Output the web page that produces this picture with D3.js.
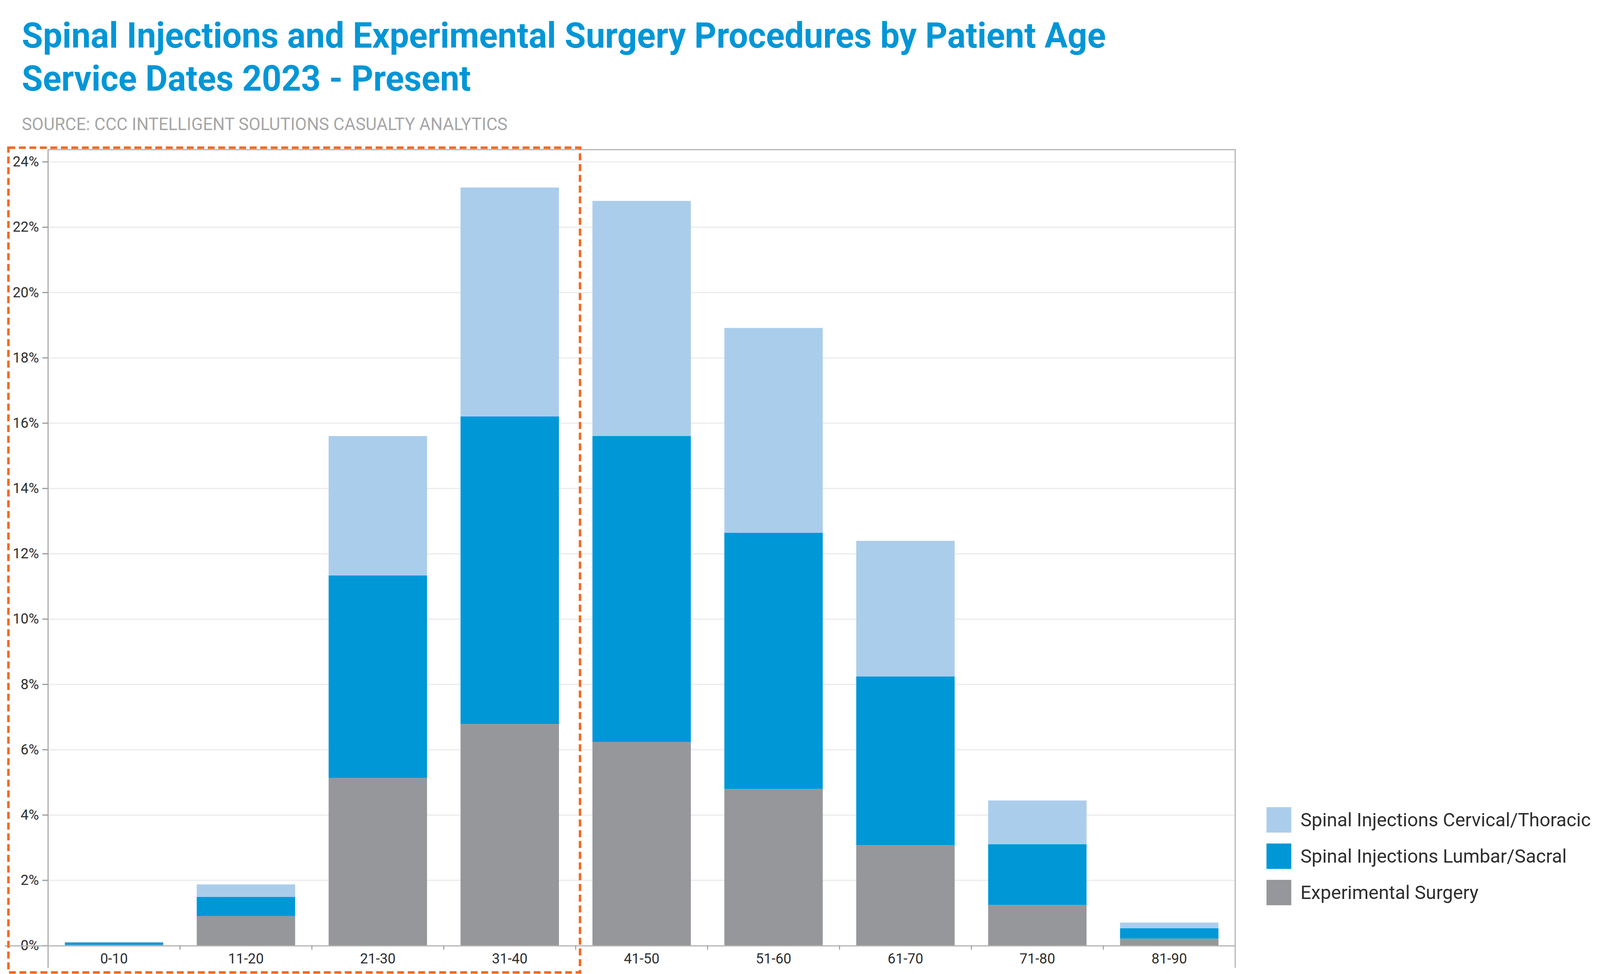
<!DOCTYPE html>
<html>
<head>
<meta charset="utf-8">
<script src="https://cdn.jsdelivr.net/npm/d3@7/dist/d3.min.js"></script>
<style>
  html, body { margin: 0; padding: 0; background: #ffffff; overflow: hidden; width: 100%; height: 100%; }
  svg { display: block; position: absolute; left: 0; top: 0; width: 100%; height: 100%; }
  text { font-family: Roboto, "Noto Sans", "DejaVu Sans", sans-serif; }
</style>
</head>
<body>
<svg id="chart" viewBox="0 0 4193 2493" preserveAspectRatio="none"></svg>
<script>
// ---- Data (percent of procedures) ----
const categories = ["0-10", "11-20", "21-30", "31-40", "41-50", "51-60", "61-70", "71-80", "81-90"];
const seriesNames = ["Experimental Surgery", "Spinal Injections Lumbar/Sacral", "Spinal Injections Cervical/Thoracic"];
const experimentalSurgery = [0.02, 0.90, 5.13, 6.78, 6.23, 4.79, 3.07, 1.24, 0.21];
const lumbarSacral        = [0.07, 0.59, 6.20, 9.42, 9.37, 7.85, 5.17, 1.86, 0.32];
const cervicalThoracic    = [0.02, 0.38, 4.27, 7.01, 7.20, 6.27, 4.15, 1.34, 0.17];
const yTickValues = [0, 2, 4, 6, 8, 10, 12, 14, 16, 18, 20, 22, 24];
const legendOrder = ["Spinal Injections Cervical/Thoracic", "Spinal Injections Lumbar/Sacral", "Experimental Surgery"];

const titleLines = ["Spinal Injections and Experimental Surgery Procedures by Patient Age", "Service Dates 2023 - Present"];
const sourceText = "SOURCE: CCC INTELLIGENT SOLUTIONS CASUALTY ANALYTICS";

// ---- Styles ----
const colors = {
  "Experimental Surgery": "#96979b",
  "Spinal Injections Lumbar/Sacral": "#0097d7",
  "Spinal Injections Cervical/Thoracic": "#abcdec"
};
const titleColor = "#0096d6";

const svg = d3.select("#chart");

// ---- Layout ----
const plot = { left: 126, right: 3237, top: 383, bottom: 2420 };

const table = categories.map((c, i) => ({
  category: c,
  "Experimental Surgery": experimentalSurgery[i],
  "Spinal Injections Lumbar/Sacral": lumbarSacral[i],
  "Spinal Injections Cervical/Thoracic": cervicalThoracic[i]
}));
const stacked = d3.stack().keys(seriesNames)(table);

const x = d3.scaleBand()
  .domain(categories)
  .range([plot.left, plot.right])
  .paddingInner(0.254)
  .paddingOuter(0.127);

const y = d3.scaleLinear()
  .domain([0, 24.37])
  .range([plot.bottom, plot.top]);

// ---- Titles ----
function fitText(sel, width) {
  sel.each(function () {
    this.setAttribute("textLength", width);
    this.setAttribute("lengthAdjust", "spacingAndGlyphs");
  });
}
svg.append("text")
  .attr("x", 57).attr("y", 122)
  .attr("fill", titleColor).attr("font-size", 91).attr("font-weight", 700)
  .text(titleLines[0]).call(fitText, 2841);
svg.append("text")
  .attr("x", 57).attr("y", 232)
  .attr("fill", titleColor).attr("font-size", 91).attr("font-weight", 700)
  .text(titleLines[1]).call(fitText, 1177);
svg.append("text")
  .attr("x", 57).attr("y", 333)
  .attr("fill", "#a6a6a6").attr("font-size", 44)
  .text(sourceText).call(fitText, 1273);

// ---- Gridlines ----
svg.append("g")
  .attr("transform", `translate(${plot.left},0)`)
  .call(d3.axisLeft(y).tickValues(yTickValues.filter(v => v > 0)).tickSize(-(plot.right - plot.left)).tickFormat(""))
  .call(g => g.select(".domain").remove())
  .call(g => g.selectAll("line").attr("stroke", "#ebebeb").attr("stroke-width", 3));

// ---- Frame (top & right) ----
svg.append("line")
  .attr("x1", plot.left).attr("x2", plot.right + 1.5)
  .attr("y1", plot.top).attr("y2", plot.top)
  .attr("stroke", "#b3b3b3").attr("stroke-width", 3);
svg.append("line")
  .attr("x1", plot.right).attr("x2", plot.right)
  .attr("y1", plot.top).attr("y2", 2477)
  .attr("stroke", "#b3b3b3").attr("stroke-width", 3);

// ---- Bars ----
svg.append("g")
  .selectAll("g")
  .data(stacked)
  .join("g")
  .attr("fill", d => colors[d.key])
  .selectAll("rect")
  .data(d => d)
  .join("rect")
  .attr("x", d => x(d.data.category))
  .attr("width", x.bandwidth())
  .attr("y", d => y(d[1]))
  .attr("height", d => y(d[0]) - y(d[1]));

// ---- Y axis ----
svg.append("g")
  .attr("transform", `translate(${plot.left},0)`)
  .call(d3.axisLeft(y).tickValues(yTickValues).tickSize(15).tickPadding(9).tickFormat(d => d + "%"))
  .call(g => g.select(".domain").remove())
  .call(g => g.selectAll("line").attr("stroke", "#9a9a9a").attr("stroke-width", 3))
  .call(g => g.selectAll("text").attr("fill", "#2e2e2e").attr("font-size", 37)
    .attr("font-family", "Roboto, 'Noto Sans', sans-serif"));
svg.append("line")
  .attr("x1", plot.left).attr("x2", plot.left)
  .attr("y1", plot.top).attr("y2", 2477)
  .attr("stroke", "#a8a8a8").attr("stroke-width", 3);

// ---- X axis ----
svg.append("g")
  .attr("transform", `translate(0,${plot.bottom})`)
  .call(d3.axisBottom(x).tickSize(0).tickPadding(20))
  .call(g => g.select(".domain").remove())
  .call(g => g.selectAll("text").attr("fill", "#2e2e2e").attr("font-size", 37)
    .attr("font-family", "Roboto, 'Noto Sans', sans-serif"));
svg.append("line")
  .attr("x1", 12).attr("x2", plot.right)
  .attr("y1", plot.bottom + 1).attr("y2", plot.bottom + 1)
  .attr("stroke", "#b3b3b3").attr("stroke-width", 3);
const gap = (x.step() - x.bandwidth()) / 2;
svg.append("g")
  .selectAll("line")
  .data(categories.slice(1))
  .join("line")
  .attr("x1", d => x(d) - gap).attr("x2", d => x(d) - gap)
  .attr("y1", plot.bottom).attr("y2", plot.bottom + 11)
  .attr("stroke", "#9a9a9a").attr("stroke-width", 2.5);

// ---- Legend ----
const legend = svg.append("g").attr("transform", "translate(3319,2066)");
const items = legend.selectAll("g")
  .data(legendOrder)
  .join("g")
  .attr("transform", (d, i) => `translate(0,${i * 93})`);
items.append("rect")
  .attr("width", 65).attr("height", 65)
  .attr("fill", d => colors[d]);
const ltexts = items.append("text")
  .attr("x", 89).attr("y", 49)
  .attr("fill", "#2e2e2e").attr("font-size", 49)
  .text(d => d);
// compress legend text consistently to match reference width
const naturalLens = ltexts.nodes().map(n => n.getComputedTextLength());
const ratio = 761 / naturalLens[0];
ltexts.each(function (d, i) {
  this.setAttribute("textLength", naturalLens[i] * ratio);
  this.setAttribute("lengthAdjust", "spacingAndGlyphs");
});

// ---- Orange dashed highlight box ----
svg.append("rect")
  .attr("x", 22).attr("y", 378)
  .attr("width", 1520 - 22).attr("height", 2489 - 378)
  .attr("fill", "none")
  .attr("stroke", "#f26a21").attr("stroke-width", 6.5)
  .attr("stroke-dasharray", "18 9.5");
</script>
</body>
</html>
